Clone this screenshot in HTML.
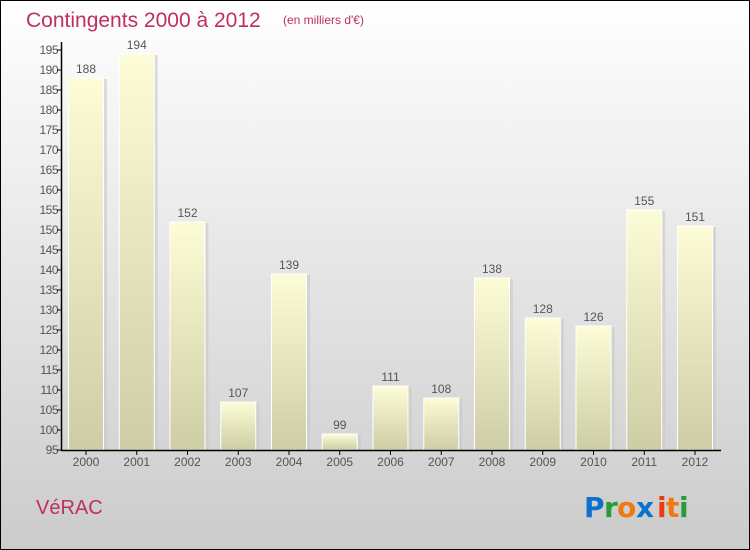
<!DOCTYPE html>
<html><head><meta charset="utf-8"><style>
html,body{margin:0;padding:0;width:750px;height:550px;overflow:hidden}
svg{display:block;font-family:"Liberation Sans","DejaVu Sans",sans-serif}
</style></head><body>
<svg width="750" height="550" viewBox="0 0 750 550" xmlns="http://www.w3.org/2000/svg">
<defs>
<linearGradient id="bg" x1="0" y1="0" x2="0" y2="1"><stop offset="0" stop-color="#ffffff"/><stop offset="1" stop-color="#cbcbcb"/></linearGradient>
<linearGradient id="bar" x1="0" y1="0" x2="0" y2="1"><stop offset="0" stop-color="#fcfcd6"/><stop offset="1" stop-color="#cdcda6"/></linearGradient>
</defs>
<rect x="0.5" y="0.5" width="749" height="549" fill="url(#bg)" stroke="#000"/>
<text x="26" y="27" font-size="21" fill="#c0305c">Contingents 2000 à 2012</text>
<text x="283" y="24" font-size="12" fill="#c0305c">(en milliers d'€)</text>
<g id="bars"></g>
<g stroke="#000" stroke-width="1.5"><line x1="61.5" y1="42" x2="61.5" y2="450.5"/><line x1="61" y1="450.5" x2="721" y2="450.5"/></g>
<g id="yt" font-size="12" fill="#555" text-anchor="end"></g>
<g id="xt" font-size="12" fill="#555" text-anchor="middle"></g>
<text x="36" y="514" font-size="20" fill="#c0305c">VéRAC</text>
<g font-family="'DejaVu Sans',sans-serif" font-size="28" font-weight="bold">
<text x="584" y="517" fill="#0b72cc">P</text><text x="604" y="517" fill="#2a9a3a">r</text><text x="617" y="517" fill="#f07a10">o</text><text x="636" y="517" fill="#0b72cc">x</text><text x="657" y="517" fill="#f03a10">i</text><text x="666" y="517" fill="#f07a10">t</text><text x="679" y="517" fill="#2a9a3a">i</text>
</g>
<script>
var vals=[188,194,152,107,139,99,111,108,138,128,126,155,151];
var ns="http://www.w3.org/2000/svg";
function el(t,a,p,txt){var e=document.createElementNS(ns,t);for(var k in a)e.setAttribute(k,a[k]);if(txt!=null)e.textContent=txt;document.getElementById(p).appendChild(e);}
vals.forEach(function(v,i){var c=86+i*50.75,y=450-(v-95)*4;
el('rect',{x:c-16,y:y+1,width:37,height:450-y,fill:'#c8c8c8',opacity:0.6},'bars');
el('rect',{x:c-17.5,y:y,width:35,height:450-y,fill:'url(#bar)',stroke:'#fff','stroke-width':1},'bars');
el('text',{x:c,y:y-5},'xt',String(v));
el('text',{x:c,y:466},'xt',String(2000+i));
el('line',{x1:c,y1:450,x2:c,y2:455,stroke:'#000'},'xt');});
for(var v=95;v<=195;v+=5){var y=450-(v-95)*4;el('text',{x:58,y:y+4,'letter-spacing':'-0.5'},'yt',String(v));el('line',{x1:57,y1:y,x2:62,y2:y,stroke:'#000'},'yt');}
</script>
</svg>
</body></html>
